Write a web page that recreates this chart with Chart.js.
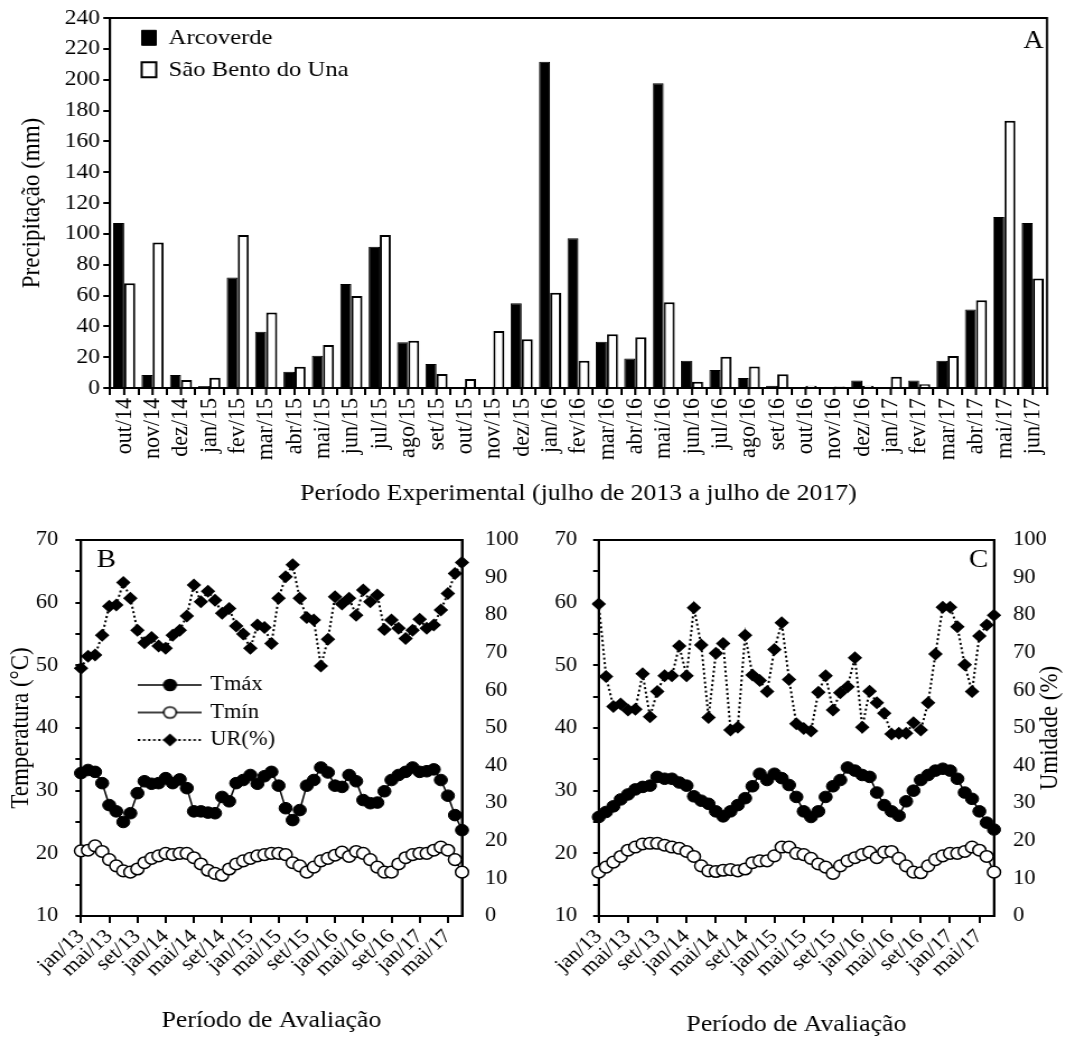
<!DOCTYPE html>
<html><head><meta charset="utf-8">
<script src="https://cdn.jsdelivr.net/npm/chart.js@4/dist/chart.umd.min.js"></script>
<style>
html,body{margin:0;padding:0;background:#fff;overflow:hidden;}
#wrap{position:relative;width:1068px;height:1040px;background:#fff;}
canvas{position:absolute;transform:scaleX(1.12);transform-origin:0 0;}
</style></head><body>
<div id="wrap">
<canvas id="ca" width="954" height="520" style="left:0;top:0"></canvas>
<canvas id="cb" width="477" height="520" style="left:0;top:520px"></canvas>
<canvas id="cc" width="477" height="520" style="left:534px;top:520px"></canvas>
</div>
<script>
// ---------- Panel A data ----------
const precipMonths = ['out/14','nov/14','dez/14','jan/15','fev/15','mar/15','abr/15','mai/15','jun/15','jul/15','ago/15','set/15','out/15','nov/15','dez/15','jan/16','fev/16','mar/16','abr/16','mai/16','jun/16','jul/16','ago/16','set/16','out/16','nov/16','dez/16','jan/17','fev/17','mar/17','abr/17','mai/17','jun/17'];
const arcoverde = [107,8.4,8.4,1.3,71.6,36.5,10.6,21,67.5,91.7,29.6,15.6,0,0,54.9,211.7,97.1,30,19.2,197.6,17.7,11.7,6.5,1.5,0,0,4.8,0,4.8,17.7,51,111,107];
const saoBento = [68,94.3,5.2,6.7,99.2,48.9,13.8,27.9,59.7,99.2,30.7,9.1,5.8,37,31.6,61.8,17.7,34.8,32.9,55.6,4.1,20.3,14,9,1.5,1,1.5,7.3,2.4,20.8,57,173.4,71];

// ---------- Panels B / C data ----------
const evalMonths = ['jan/13','fev/13','mar/13','abr/13','mai/13','jun/13','jul/13','ago/13','set/13','out/13','nov/13','dez/13',
'jan/14','fev/14','mar/14','abr/14','mai/14','jun/14','jul/14','ago/14','set/14','out/14','nov/14','dez/14',
'jan/15','fev/15','mar/15','abr/15','mai/15','jun/15','jul/15','ago/15','set/15','out/15','nov/15','dez/15',
'jan/16','fev/16','mar/16','abr/16','mai/16','jun/16','jul/16','ago/16','set/16','out/16','nov/16','dez/16',
'jan/17','fev/17','mar/17','abr/17','mai/17','jun/17','jul/17'];
const tmaxB = [32.8,33.3,33.0,31.2,27.7,26.7,25.0,26.4,29.6,31.5,31.1,31.2,32.0,31.2,31.8,30.4,26.7,26.7,26.5,26.4,29.0,28.3,31.2,31.7,32.5,31.1,32.3,33.0,30.8,27.2,25.3,26.9,30.8,31.7,33.7,32.9,30.8,30.6,32.5,31.5,28.5,28.0,28.1,29.9,31.7,32.5,33.0,33.7,33.0,33.1,33.4,31.7,29.2,26.1,23.7];
const tminB = [20.4,20.5,21.2,20.3,19.0,18.0,17.2,17.0,17.5,18.5,19.2,19.6,20.0,19.8,20.0,20.0,19.3,18.3,17.3,16.8,16.5,17.5,18.3,18.8,19.2,19.6,19.8,20.0,20.0,19.8,18.5,18.0,17.0,17.8,18.8,19.2,19.7,20.2,19.5,20.3,20.0,19.0,17.8,17.0,17.0,18.3,19.3,19.8,20.0,20.0,20.5,21.0,20.5,19.0,17.0];
const urB = [65.9,69.1,69.4,74.7,82.4,82.7,88.7,84.5,76,72.7,74.1,71.8,71.2,74.7,76,79.8,88,83.6,86.4,84,80.5,81.8,77.1,75,71.2,77.4,76.7,72.5,84.5,90.2,93.4,84.5,79.4,78.7,66.5,73.6,84.9,83,84.5,80,86.7,83.6,85.4,76.2,78.7,76.5,73.8,76,78.9,76.5,77.4,81.4,85.8,91.1,94];
const tmaxC = [25.8,26.6,27.5,28.6,29.4,30.2,30.6,30.8,32.2,31.9,31.9,31.3,30.8,29.1,28.4,27.9,26.7,25.9,26.7,27.7,28.8,30.7,32.7,31.7,32.7,32.0,30.9,29.0,26.7,25.8,26.7,29.0,30.7,31.7,33.7,33.2,32.5,32.2,29.7,27.7,26.7,26.0,28.3,30.0,31.7,32.5,33.2,33.5,33.2,31.9,29.7,28.7,26.7,24.9,23.8];
const tminC = [17.0,17.8,18.6,19.5,20.5,21.0,21.5,21.6,21.6,21.3,21.0,20.8,20.3,19.5,18.0,17.2,17.1,17.3,17.4,17.2,17.5,18.5,18.8,18.8,19.6,21.0,21.0,20.0,19.8,19.2,18.3,17.8,16.8,18.0,18.8,19.3,19.8,20.2,19.3,20.2,20.3,19.2,18.0,17.0,16.9,18.0,19.0,19.6,20.0,20.0,20.3,21.0,20.5,19.5,17.0];
const urC = [83.0,63.7,55.7,56.4,54.8,55.0,64.4,53.0,59.7,63.9,63.9,71.8,63.9,82.0,72.1,52.8,69.9,72.5,49.5,50.2,74.7,64.1,62.6,59.7,70.9,78.0,62.9,51.1,49.9,49.2,59.5,63.9,54.8,59.4,61.0,68.7,50.2,59.8,56.7,53.9,48.4,48.6,48.6,51.4,49.5,56.7,69.7,82.1,82.1,76.9,66.8,59.7,74.5,77.4,80.0];

const FONT = "'Liberation Serif', 'Times New Roman', serif";
Chart.defaults.font.family = FONT;
Chart.defaults.color = '#000';

// frame + panel letter + optional rotated right title
const framePlugin = {
  id: 'frame',
  beforeDatasetsDraw(chart, args, o) {
    const {ctx, chartArea: a} = chart;
    ctx.save();
    ctx.strokeStyle = '#000'; ctx.lineWidth = 2;
    ctx.strokeRect(a.left, a.top, a.right - a.left, a.bottom - a.top);
    if (o.centerTicks) {
      const xs = chart.scales.x;
      ctx.lineWidth = 2; ctx.beginPath();
      for (let i = 0; i < xs.ticks.length; i++) {
        const px = xs.getPixelForTick(i);
        ctx.moveTo(px, a.bottom); ctx.lineTo(px, a.bottom + o.centerTicks);
      }
      ctx.stroke();
    }
    ctx.restore();
  },
  afterDraw(chart, args, o) {
    const {ctx, chartArea: a} = chart;
    ctx.save();
    ctx.fillStyle = '#000';
    if (o.letter) {
      ctx.font = o.letterSize + 'px ' + FONT;
      ctx.textBaseline = 'alphabetic';
      ctx.textAlign = o.letterAlign;
      const x = o.letterAlign === 'left' ? a.left + o.letterDx : a.right - o.letterDx;
      ctx.fillText(o.letter, x, a.top + o.letterDy);
    }
    if (o.rightTitle) {
      ctx.font = o.rightTitleSize + 'px ' + FONT;
      ctx.textAlign = 'center'; ctx.textBaseline = 'middle';
      ctx.translate(o.rightTitleX, (a.top + a.bottom) / 2);
      ctx.rotate(-Math.PI / 2);
      ctx.fillText(o.rightTitle, 0, 0);
    }
    ctx.restore();
  }
};
const legendShift = {
  id: 'legendShift',
  afterLayout(chart, args, o) {
    const lg = chart.legend;
    if (!lg || !o || o.dx === undefined) return;
    const a = chart.chartArea;
    const w = lg.width, h = lg.height;
    lg.left = a.left + o.dx; lg.right = lg.left + w;
    lg.top = a.top + o.dy; lg.bottom = lg.top + h;
  }
};

// ---------- Panel A ----------
new Chart(document.getElementById('ca'), {
  type: 'bar',
  data: {
    labels: precipMonths,
    datasets: [
      {label: 'Arcoverde', data: arcoverde, backgroundColor: '#000', borderColor: '#000', borderWidth: 1},
      {label: 'São Bento do Una', data: saoBento, backgroundColor: '#fff', borderColor: '#000', borderWidth: 2}
    ]
  },
  options: {
    responsive: false, animation: false, devicePixelRatio: 1,
    layout: {padding: {top: 18, right: 19.2, left: 0, bottom: 0}},
    datasets: {bar: {categoryPercentage: 0.78, barPercentage: 1.0}},
    scales: {
      x: {
        grid: {offset: true, drawOnChartArea: false, color: '#000', lineWidth: 2, tickLength: 7},
        border: {color: '#000', width: 2},
        ticks: {autoSkip: false, minRotation: 90, maxRotation: 90, font: {size: 22}, padding: 3},
        title: {display: true, text: 'Período Experimental (julho de 2013 a julho de 2017)', font: {size: 23}, padding: {top: 0, bottom: 12}},
        afterFit(s) { s.height = 132; }
      },
      y: {
        min: 0, max: 240,
        ticks: {stepSize: 20, font: {size: 21}, padding: 3},
        grid: {drawOnChartArea: false, color: '#000', lineWidth: 2, tickLength: 6},
        border: {color: '#000', width: 2},
        title: {display: true, text: 'Precipitação (mm)', font: {size: 23}, padding: {top: 15, bottom: 0}},
        afterFit(s) { s.width = 98.2; s.paddingTop = 0; s.paddingBottom = 0; }
      }
    },
    plugins: {
      tooltip: {enabled: false},
      legend: {
        position: 'chartArea', align: 'start',
        labels: {font: {size: 22}, boxWidth: 13, boxHeight: 15, padding: 10, color: '#000'}
      },
      legendShift: {dx: 18.3, dy: -1.2},
      frame: {letter: 'A', letterSize: 25, letterAlign: 'right', letterDx: 3, letterDy: 30, centerTicks: 7}
    }
  },
  plugins: [framePlugin, legendShift]
});

// ---------- legend icons for B ----------
function legendIcon(kind) {
  const c = document.createElement('canvas');
  c.width = 57; c.height = 16;
  const g = c.getContext('2d');
  g.strokeStyle = '#000';
  g.lineWidth = kind === 'ur' ? 2 : 1.5;
  if (kind === 'ur') g.setLineDash([2, 2.5]);
  g.beginPath(); g.moveTo(0, 8); g.lineTo(57, 8); g.stroke();
  g.setLineDash([]);
  g.fillStyle = kind === 'min' ? '#fff' : '#000';
  g.beginPath();
  if (kind === 'ur') {
    g.moveTo(28.5, 1.5); g.lineTo(35, 8); g.lineTo(28.5, 14.5); g.lineTo(22, 8); g.closePath(); g.fill();
  } else {
    g.arc(28.5, 8, 5.6, 0, Math.PI * 2); g.fill(); g.lineWidth = 1.5; g.stroke();
  }
  return c;
}
const icons = {max: legendIcon('max'), min: legendIcon('min'), ur: legendIcon('ur')};

function lineDatasets(tmax, tmin, ur) {
  return [
    {label: 'Tmáx', data: tmax, yAxisID: 'y', borderColor: '#000', borderWidth: 1.5, pointStyle: 'circle',
     pointRadius: 5.8, pointBackgroundColor: '#000', pointBorderColor: '#000', pointBorderWidth: 1},
    {label: 'Tmín', data: tmin, yAxisID: 'y', borderColor: '#000', borderWidth: 1.5, pointStyle: 'circle',
     pointRadius: 5.8, pointBackgroundColor: '#fff', pointBorderColor: '#000', pointBorderWidth: 1.5},
    {label: 'UR(%)', data: ur, yAxisID: 'y1', borderColor: '#000', borderWidth: 2, borderDash: [2, 2.5], pointStyle: 'rectRot',
     pointRadius: 6.5, pointBackgroundColor: '#000', pointBorderColor: '#000', pointBorderWidth: 0}
  ];
}

function lineOptions(p) {
  return {
    responsive: false, animation: false, devicePixelRatio: 1,
    layout: {padding: {top: 20, right: 0, left: 0, bottom: 0}},
    scales: {
      x: {
        grid: {drawOnChartArea: false, color: '#000', lineWidth: 2, tickLength: 7},
        border: {color: '#000', width: 2},
        ticks: {
          autoSkip: false, minRotation: 45, maxRotation: 45, font: {size: 20}, padding: 2,
          callback: function (v, i) { return i % 4 === 0 ? this.getLabelForValue(v) : null; }
        },
        title: {display: true, text: 'Período de Avaliação', font: {size: 23}, padding: {top: 0, bottom: p.xTitlePad}},
        afterFit(s) { s.height = 124; }
      },
      y: {
        position: 'left', min: 10, max: 70,
        ticks: {stepSize: 5, font: {size: 20}, padding: p.leftPad, callback: v => (v % 10 === 0 ? v : '')},
        grid: {drawOnChartArea: false, color: '#000', lineWidth: 2, tickLength: 5},
        border: {color: '#000', width: 2},
        title: {display: !!p.leftTitle, text: p.leftTitle || '', font: {size: 23}, padding: {top: 5, bottom: 0}},
        afterFit(s) { s.width = p.leftW; s.paddingTop = 0; s.paddingBottom = 0; }
      },
      y1: {
        position: 'right', min: 0, max: 100,
        ticks: {stepSize: 10, font: {size: 20}, padding: p.rightPad},
        grid: {display: false, drawTicks: false},
        border: {color: '#000', width: 2},
        afterFit(s) { s.width = p.rightW; s.paddingTop = 0; s.paddingBottom = 0; }
      }
    },
    plugins: {
      tooltip: {enabled: false},
      legend: p.legend ? {
        position: 'chartArea', align: 'start',
        labels: {
          font: {size: 20}, usePointStyle: true, pointStyleWidth: 52, padding: 7.5, color: '#000',
          generateLabels: () => [
            {text: 'Tmáx', pointStyle: icons.max, fillStyle: '#000', strokeStyle: '#000', lineWidth: 0, hidden: false, datasetIndex: 0},
            {text: 'Tmín', pointStyle: icons.min, fillStyle: '#fff', strokeStyle: '#000', lineWidth: 0, hidden: false, datasetIndex: 1},
            {text: 'UR(%)', pointStyle: icons.ur, fillStyle: '#000', strokeStyle: '#000', lineWidth: 0, hidden: false, datasetIndex: 2}
          ]
        }
      } : {display: false},
      legendShift: p.legend ? {dx: 46, dy: 127.5} : {},
      frame: p.frame
    }
  };
}

// ---------- Panel B ----------
new Chart(document.getElementById('cb'), {
  type: 'line',
  data: {labels: evalMonths, datasets: lineDatasets(tmaxB, tminB, urB)},
  options: lineOptions({
    leftW: 72.3, rightW: 64.5, leftPad: 15.2, rightPad: 20.5, leftTitle: 'Temperatura (°C)', xTitlePad: 5, legend: true,
    frame: {letter: 'B', letterSize: 26, letterAlign: 'left', letterDx: 14, letterDy: 27}
  }),
  plugins: [framePlugin, legendShift]
});

// ---------- Panel C ----------
new Chart(document.getElementById('cc'), {
  type: 'line',
  data: {labels: evalMonths, datasets: lineDatasets(tmaxC, tminC, urC)},
  options: lineOptions({
    leftW: 57.8, rightW: 66.3, leftPad: 14.4, rightPad: 17, leftTitle: null, xTitlePad: 1, legend: false,
    frame: {letter: 'C', letterSize: 26, letterAlign: 'right', letterDx: 5, letterDy: 27,
            rightTitle: 'Umidade (%)', rightTitleSize: 23, rightTitleX: 460.7}
  }),
  plugins: [framePlugin, legendShift]
});
</script>
</body></html>
